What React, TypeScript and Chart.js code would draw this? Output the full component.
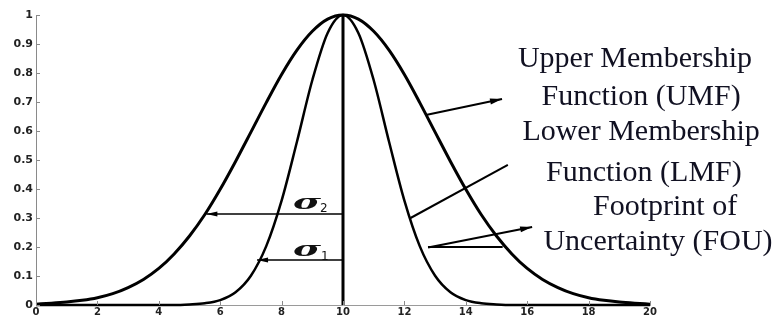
import React, { useEffect, useRef } from "react";
import { Chart, registerables } from "chart.js";

Chart.register(...registerables);

// ---- data ----
const xValues = [
  0, 0.5, 1, 1.5, 2, 2.5, 3, 3.5, 4, 4.5, 5, 5.5, 6, 6.5, 7, 7.5, 8, 8.5, 9, 9.5,
  10, 10.5, 11, 11.5, 12, 12.5, 13, 13.5, 14, 14.5, 15, 15.5, 16, 16.5, 17, 17.5,
  18, 18.5, 19, 19.5, 20,
];
const umfValues = [
  0.003, 0.006, 0.01, 0.016, 0.025, 0.039, 0.06, 0.088, 0.126, 0.176, 0.238,
  0.312, 0.399, 0.495, 0.596, 0.698, 0.795, 0.879, 0.944, 0.986, 1, 0.986, 0.944,
  0.879, 0.795, 0.698, 0.596, 0.495, 0.399, 0.312, 0.238, 0.176, 0.126, 0.088,
  0.06, 0.039, 0.025, 0.016, 0.01, 0.006, 0.003,
];
const lmfValues = [
  0, 0, 0, 0, 0, 0, 0, 0, 0, 0, 0.002, 0.006, 0.017, 0.044, 0.101, 0.203, 0.36,
  0.563, 0.775, 0.938, 1, 0.938, 0.775, 0.563, 0.36, 0.203, 0.101, 0.044, 0.017,
  0.006, 0.002, 0, 0, 0, 0, 0, 0, 0, 0, 0, 0,
];
const xTickLabels = ["0", "2", "4", "6", "8", "10", "12", "14", "16", "18", "20"];
const yTickLabels = ["0", "0.1", "0.2", "0.3", "0.4", "0.5", "0.6", "0.7", "0.8", "0.9", "1"];
const centerValue = 10;
const sigma2Level = 0.314;
const sigma2End = 5.55;
const sigma1Level = 0.155;
const sigma1End = 7.2;

const labelLines = [
  "Upper Membership",
  "Function (UMF)",
  "Lower Membership",
  "Function (LMF)",
  "Footprint of",
  "Uncertainty (FOU)",
];

// ---- annotation placement (data coordinates) ----
const labelPositions = [
  [19.51, 0.821],
  [19.71, 0.69],
  [19.71, 0.569],
  [19.8, 0.428],
  [20.49, 0.31],
  [20.26, 0.19],
];
// [x1, y1, x2, y2, arrowhead]
const pointerLines: [number, number, number, number, boolean][] = [
  [12.7, 0.655, 15.18, 0.71, true],
  [12.2, 0.3, 15.37, 0.483, false],
  [12.77, 0.2, 15.2, 0.2, false],
  [12.77, 0.198, 16.16, 0.269, true],
];

function drawArrow(
  ctx: CanvasRenderingContext2D,
  x1: number,
  y1: number,
  x2: number,
  y2: number,
  head: boolean,
  lw: number,
  hl: number,
  hw: number
) {
  ctx.save();
  ctx.strokeStyle = "#000";
  ctx.fillStyle = "#000";
  ctx.lineWidth = lw;
  ctx.beginPath();
  ctx.moveTo(x1, y1);
  ctx.lineTo(x2, y2);
  ctx.stroke();
  if (head) {
    const a = Math.atan2(y2 - y1, x2 - x1);
    ctx.beginPath();
    ctx.moveTo(x2, y2);
    ctx.lineTo(x2 - hl * Math.cos(a) + hw * Math.sin(a), y2 - hl * Math.sin(a) - hw * Math.cos(a));
    ctx.lineTo(x2 - hl * Math.cos(a) - hw * Math.sin(a), y2 - hl * Math.sin(a) + hw * Math.cos(a));
    ctx.closePath();
    ctx.fill();
  }
  ctx.restore();
}

const annotationPlugin = {
  id: "fouAnnotations",
  afterDatasetsDraw(chart: any) {
    const { ctx, scales, chartArea } = chart;
    const xs = scales.x;
    const ys = scales.y;
    const px = (v: number) => xs.getPixelForValue(v);
    const py = (v: number) => ys.getPixelForValue(v);

    // inward tick marks
    ctx.save();
    ctx.strokeStyle = "#8a8a8a";
    ctx.lineWidth = 1;
    ys.ticks.forEach((t: any) => {
      const y = Math.round(py(t.value)) + 0.5;
      ctx.beginPath();
      ctx.moveTo(chartArea.left, y);
      ctx.lineTo(chartArea.left + 4, y);
      ctx.stroke();
    });
    xs.ticks.forEach((t: any) => {
      const x = Math.round(px(t.value)) + 0.5;
      ctx.beginPath();
      ctx.moveTo(x, chartArea.bottom);
      ctx.lineTo(x, chartArea.bottom - 4);
      ctx.stroke();
    });
    ctx.restore();

    // sigma arrows
    drawArrow(ctx, px(centerValue), py(sigma2Level), px(sigma2End), py(sigma2Level), true, 1.5, 11, 2.5);
    drawArrow(ctx, px(centerValue), py(sigma1Level), px(sigma1End), py(sigma1Level), true, 1.5, 11, 2.5);

    // sigma labels
    const sig = (lx: number, ly: number, sx: number, sy: number, sub: string) => {
      ctx.save();
      ctx.fillStyle = "#111";
      ctx.translate(px(lx), py(ly));
      ctx.scale(1.9, 1);
      ctx.font = 'bold italic 20px "DejaVu Serif"';
      ctx.textAlign = "left";
      ctx.textBaseline = "alphabetic";
      ctx.fillText("σ", 0, 0);
      ctx.restore();
      ctx.save();
      ctx.fillStyle = "#111";
      ctx.font = '12px "DejaVu Sans"';
      ctx.textAlign = "left";
      ctx.textBaseline = "alphabetic";
      ctx.fillText(sub, px(sx), py(sy));
      ctx.restore();
    };
    sig(8.37, 0.331, 9.25, 0.321, "2");
    sig(8.37, 0.169, 9.28, 0.155, "1");

    // pointer lines to labels
    pointerLines.forEach(([a, b, c, d, h]) => {
      drawArrow(ctx, px(a), py(b), px(c), py(d), h, 2, 12, 3);
    });

    // labels
    ctx.save();
    ctx.fillStyle = "#111122";
    ctx.font = '30px "Liberation Serif"';
    ctx.textAlign = "center";
    ctx.textBaseline = "alphabetic";
    labelLines.forEach((txt, i) => {
      const [lx, ly] = labelPositions[i];
      ctx.fillText(txt, px(lx), py(ly));
    });
    ctx.restore();
  },
};

export default function App() {
  const canvasRef = useRef<HTMLCanvasElement | null>(null);

  useEffect(() => {
    const canvas = canvasRef.current;
    if (!canvas) return;
    const umfData = xValues.map((x, i) => ({ x, y: umfValues[i] }));
    const lmfData = xValues.map((x, i) => ({ x, y: lmfValues[i] }));
    const chart = new Chart(canvas, {
      type: "line",
      data: {
        datasets: [
          {
            label: "UMF",
            data: umfData,
            borderColor: "#000",
            borderWidth: 3,
            pointRadius: 0,
            cubicInterpolationMode: "monotone",
            clip: false as any,
          },
          {
            label: "LMF",
            data: lmfData,
            borderColor: "#000",
            borderWidth: 2.5,
            pointRadius: 0,
            cubicInterpolationMode: "monotone",
            clip: false as any,
          },
          {
            label: "center",
            data: [
              { x: centerValue, y: 0 },
              { x: centerValue, y: 1 },
            ],
            borderColor: "#000",
            borderWidth: 3,
            pointRadius: 0,
            clip: false as any,
          },
        ],
      },
      options: {
        animation: false,
        responsive: false,
        devicePixelRatio: 1,
        layout: { padding: { top: 15, right: 125, left: 0, bottom: 0 } },
        plugins: { legend: { display: false }, tooltip: { enabled: false } },
        scales: {
          x: {
            type: "linear",
            min: 0,
            max: 20,
            ticks: {
              stepSize: 2,
              padding: 1,
              color: "#222",
              font: { family: "DejaVu Sans", weight: "bold", size: 10 },
              callback: (v: any, i: number) => xTickLabels[i] ?? String(v),
            },
            grid: { display: false, drawTicks: false },
            border: { display: true, color: "#9a9a9a", width: 1 },
            afterFit: (s: any) => {
              s.height = 18;
            },
          },
          y: {
            type: "linear",
            min: 0,
            max: 1,
            ticks: {
              stepSize: 0.1,
              padding: 3,
              color: "#222",
              font: { family: "DejaVu Sans", weight: "bold", size: 11 },
              callback: (v: any, i: number) => yTickLabels[i] ?? String(v),
            },
            grid: { display: false, drawTicks: false },
            border: { display: true, color: "#8a8a8a", width: 1 },
            afterFit: (s: any) => {
              s.width = 36;
            },
          },
        },
      },
      plugins: [annotationPlugin],
    });
    return () => chart.destroy();
  }, []);

  return (
    <div style={{ position: "fixed", left: 0, top: 0, width: 775, height: 323, background: "#fff" }}>
      <canvas ref={canvasRef} width={775} height={323} />
    </div>
  );
}
